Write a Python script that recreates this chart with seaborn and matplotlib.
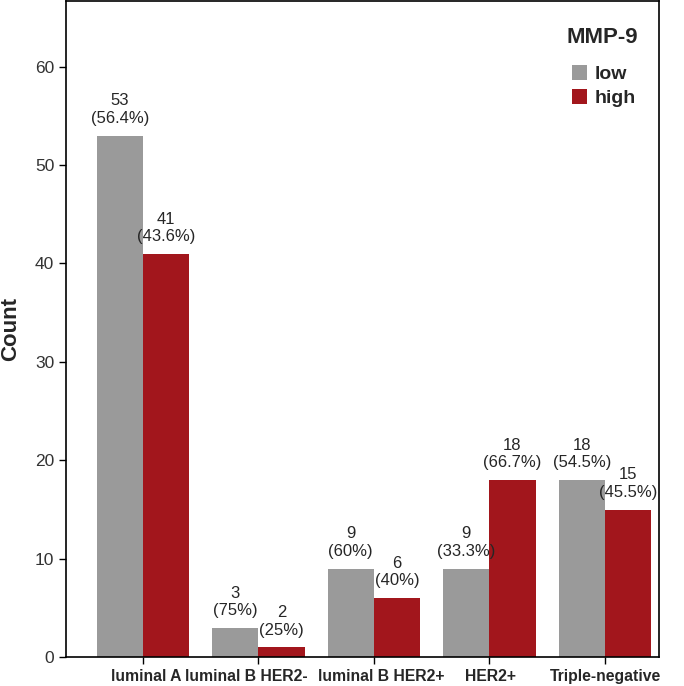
import matplotlib
matplotlib.use("Agg")
import matplotlib.pyplot as plt
import matplotlib.transforms as mtransforms
import pandas as pd
import seaborn as sns

# dados
subtypes = ["luminal A", "luminal B HER2-", "luminal B HER2+", "HER2+", "Triple-negative"]
low_counts = [53, 3, 9, 9, 18]
high_counts = [41, 1, 6, 18, 15]
low_labels = ["53\n(56.4%)", "3\n(75%)", "9\n(60%)", "9\n(33.3%)", "18\n(54.5%)"]
high_labels = ["41\n(43.6%)", "2\n(25%)", "6\n(40%)", "18\n(66.7%)", "15\n(45.5%)"]
levels = ["low", "high"]
colors = ["#9A9A9A", "#A2161C"]

df = pd.DataFrame({
    "subtype": subtypes * 2,
    "MMP-9": ["low"] * len(subtypes) + ["high"] * len(subtypes),
    "count": low_counts + high_counts,
})

sns.set_style("white")
plt.rcParams["font.family"] = ["Liberation Sans", "DejaVu Sans"]

fig = plt.figure(figsize=(6.84, 6.86), dpi=100)
ax = fig.add_axes([0.0965, 0.042, 0.867, 0.957])

sns.barplot(data=df, x="subtype", y="count", hue="MMP-9", hue_order=levels,
            palette=colors, width=0.8, saturation=1, linewidth=0, ax=ax, legend=True)

for cont, labels in zip(ax.containers, [low_labels, high_labels]):
    ax.bar_label(cont, labels=labels, padding=7, fontsize=12, linespacing=1.2)

ax.set_xlim(-0.667, 4.47)
ax.set_ylim(0, 66.7)
ax.set_yticks(range(0, 70, 10))
ax.set_xlabel("")
ax.set_ylabel("Count", fontsize=16, fontweight="bold", labelpad=10)
ax.tick_params(axis="y", labelsize=12.5, labelcolor="#333333", length=5, width=1, left=True, color="black")
ax.tick_params(axis="x", labelsize=11.3, length=5, width=1, bottom=True, color="black")

# como no original, os rótulos do meio ficam deslocados pra não encostar
shifts = [3, -12, 7, 1, 1]
for lab, dx in zip(ax.get_xticklabels(), shifts):
    lab.set_fontweight("bold")
    lab.set_transform(lab.get_transform() + mtransforms.ScaledTranslation(dx / 100, 0, fig.dpi_scale_trans))
for s in ax.spines.values():
    s.set_color("black")
    s.set_linewidth(1.2)

ax.text(0.905, 0.944, "MMP-9", transform=ax.transAxes, ha="center", va="center",
        fontsize=16, fontweight="bold")
leg = ax.legend(loc="upper left", bbox_to_anchor=(0.853, 0.902), frameon=False,
                fontsize=14, borderpad=0, borderaxespad=0,
                handlelength=0.8, handleheight=0.8, handletextpad=0.35,
                labelspacing=0.3)
for t in leg.get_texts():
    t.set_fontweight("bold")

fig.savefig("out.png", dpi=100)
